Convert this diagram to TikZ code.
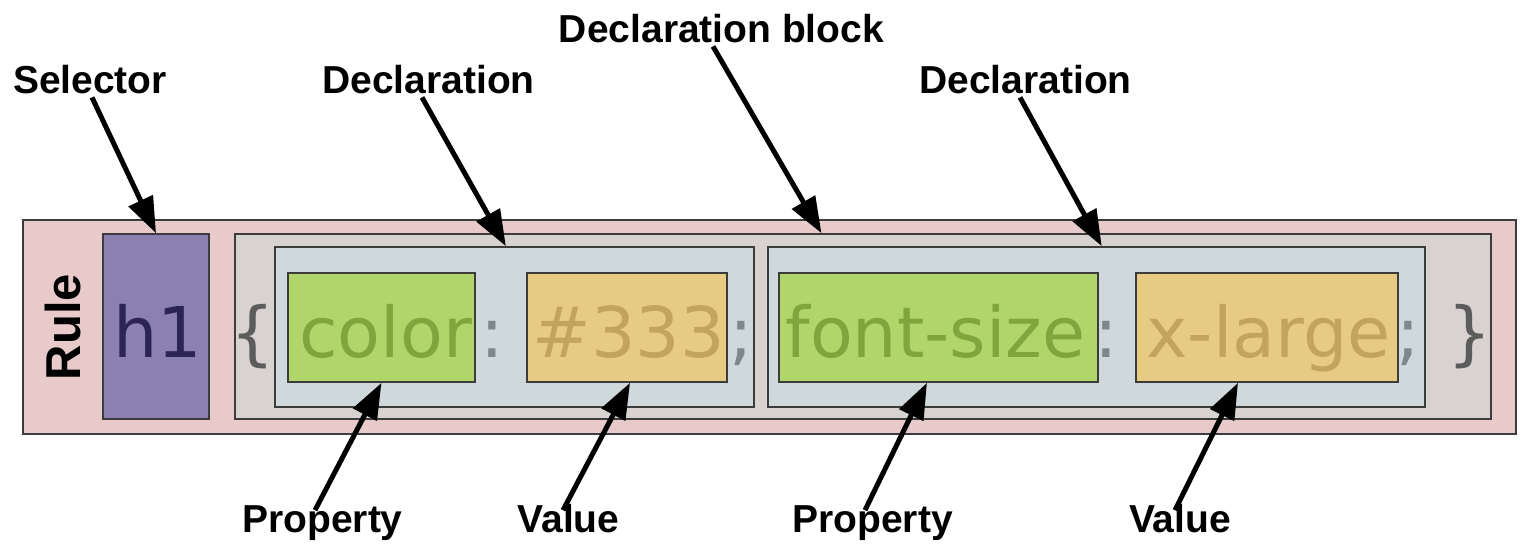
\documentclass[tikz,border=0pt]{standalone}
\usepackage{fontspec}
\setmainfont{Liberation Sans}
\newfontfamily\codefont{DejaVu Sans}
\usetikzlibrary{arrows.meta,calc,fit}

\definecolor{rulebg}{HTML}{E8CACA}
\definecolor{selbg}{HTML}{8C80B0}
\definecolor{seltxt}{HTML}{2C2452}
\definecolor{blockbg}{HTML}{D8D3D1}
\definecolor{declbg}{HTML}{CFD8DA}
\definecolor{propbg}{HTML}{B1D46B}
\definecolor{proptxt}{HTML}{7FA63C}
\definecolor{valbg}{HTML}{E8CB82}
\definecolor{valtxt}{HTML}{C2A45C}
\definecolor{punct}{HTML}{7C888C}
\definecolor{bracetxt}{HTML}{5C5C5C}
\definecolor{boxline}{HTML}{3C3C3C}

\begin{document}
\begin{tikzpicture}[x=0.5pt,y=-0.5pt,
  box/.style={draw=boxline, line width=0.8pt, inner sep=0pt},
  code/.style={inner sep=0pt, font=\codefont\fontsize{35pt}{42pt}\selectfont},
  lbl/.style={inner sep=0pt, font=\bfseries\fontsize{19.5pt}{23pt}\selectfont,
    text height=0.72em, text depth=0.2em},
  arr/.style={line width=2.5pt, -{Triangle[length=18pt,width=13pt]}}]
\useasboundingbox (0,0) rectangle (1531,543);

% nested boxes of the rule
\node[box, fill=rulebg, fit={(23,220) (1516,434)}] (rule) {};
\node[box, fill=selbg, fit={(103,234) (209,419)}] (sel) {};
\node[box, fill=blockbg, fit={(235,234) (1491,419)}] (block) {};
\node[box, fill=declbg, fit={(275,247) (754,407)}] (decl1) {};
\node[box, fill=declbg, fit={(768,247) (1425,407)}] (decl2) {};
\node[box, fill=propbg, fit={(288,273) (475,382)}] (prop1) {};
\node[box, fill=valbg, fit={(527,273) (727,382)}] (val1) {};
\node[box, fill=propbg, fit={(779,273) (1098,382)}] (prop2) {};
\node[box, fill=valbg, fit={(1136,273) (1398,382)}] (val2) {};

% rule title
\node[inner sep=0pt, rotate=90, font=\bfseries\fontsize{24.5pt}{29pt}\selectfont] (ruletxt) at (63,327) {Rule};

% code text
\node[code, text=seltxt, anchor=base] (th1) at (158,357) {h1};
\node[code, text=bracetxt, anchor=base] (lbrace) at (253,357) {\{};
\node[code, text=proptxt, anchor=base west] (tcolor) at (299,357) {color};
\node[code, text=punct, anchor=base] (colon1) at (492,357) {:};
\node[code, text=valtxt, anchor=base west] (t333) at (532,357) {\#333};
\node[code, text=punct, anchor=base] (semi1) at (741,357) {;};
\node[code, text=proptxt, anchor=base west] (tfs) at (785,357) {font-size};
\node[code, text=punct, anchor=base] (colon2) at (1106,357) {:};
\node[code, text=valtxt, anchor=base west] (txl) at (1146,357) {x-large};
\node[code, text=punct, anchor=base] (semi2) at (1408,357) {;};
\node[code, text=bracetxt, anchor=base] (rbrace) at (1470,357) {\}};

% labels above
\node[lbl, anchor=base] (lsel) at (90,93) {Selector};
\node[lbl, anchor=base] (ldecl1) at (428.5,93) {Declaration};
\node[lbl, anchor=base] (lblock) at (721.5,42) {Declaration block};
\node[lbl, anchor=base] (ldecl2) at (1025.5,93) {Declaration};

% labels below
\node[lbl, anchor=base] (lprop1) at (322.5,532) {Property};
\node[lbl, anchor=base] (lval1) at (568.5,532) {Value};
\node[lbl, anchor=base] (lprop2) at (872.5,532) {Property};
\node[lbl, anchor=base] (lval2) at (1180,532) {Value};

% pointers
\draw[arr] ($(lsel.south)+(2,0)$) -- (sel.north);
\draw[arr] ($(ldecl1.south)+(-6.5,0)$) -- ($(decl1.north west)!0.482!(decl1.north east)$);
\draw[arr] ($(lblock.south)+(-8.5,0)$) -- ($(block.north west)!0.467!(block.north east)$);
\draw[arr] ($(ldecl2.south)+(-5.5,0)$) -- ($(decl2.north west)!0.508!(decl2.north east)$);
\draw[arr] ($(lprop1.north)+(-7.5,-7)$) -- (prop1.south);
\draw[arr] ($(lval1.north)+(-5.5,-7)$) -- ($(val1.south west)!0.515!(val1.south east)$);
\draw[arr] ($(lprop2.north)+(-7.5,-7)$) -- ($(prop2.south west)!0.464!(prop2.south east)$);
\draw[arr] ($(lval2.north)+(-5,-7)$) -- ($(val2.south west)!0.39!(val2.south east)$);
\end{tikzpicture}
\end{document}
